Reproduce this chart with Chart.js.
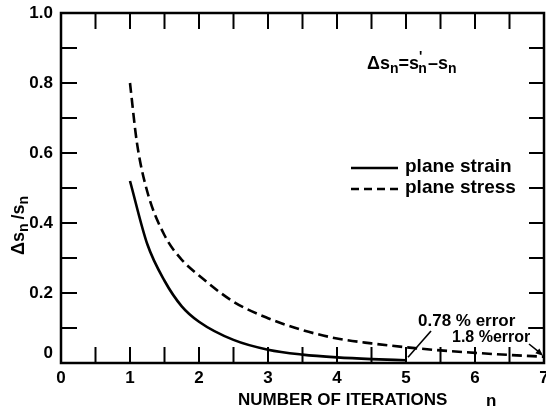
<!DOCTYPE html>
<html>
<head>
<meta charset="utf-8">
<script src="https://cdn.jsdelivr.net/npm/chart.js@4.4.1/dist/chart.umd.min.js"></script>
<style>
  html, body { margin: 0; padding: 0; background: #fff; }
  canvas { display: block; }
</style>
</head>
<body>
<canvas id="c" width="546" height="411"></canvas>
<script>
// Relative change of s_n against the number of iterations n
const strainN = [1, 1.25, 1.5, 1.75, 2, 2.5, 3, 3.5, 4, 4.5, 5];
const strainDelta = [0.52, 0.34, 0.235, 0.162, 0.118, 0.066, 0.038, 0.024, 0.016, 0.011, 0.0078];
const stressN = [1, 1.1, 1.25, 1.5, 1.75, 2, 2.5, 3, 3.5, 4, 4.5, 5, 5.5, 6, 6.5, 7];
const stressDelta = [0.80, 0.63, 0.49, 0.365, 0.295, 0.25, 0.175, 0.128, 0.094, 0.07, 0.056, 0.045, 0.036, 0.029, 0.023, 0.018];
const xTickLabels = ['0', '1', '2', '3', '4', '5', '6', '7'];
const yTickLabels = ['0', '0.2', '0.4', '0.6', '0.8', '1.0'];
const seriesNames = ['plane strain', 'plane stress'];
const errorNotes = ['0.78 % error', '1.8 %error'];
const xTitle = 'NUMBER OF ITERATIONS';
const xSymbol = 'n';

const FONT = "'Liberation Sans', Arial, sans-serif";
const toPoints = (xs, ys) => xs.map((v, i) => ({ x: v, y: ys[i] }));

// text made of runs, some of them set as subscripts or superscripts
function drawRuns(ctx, runs, x, y, size) {
  let cx = x;
  runs.forEach(r => {
    const s = r.sub || r.sup ? Math.round(size * 0.75) : size;
    ctx.font = `bold ${s}px ${FONT}`;
    const dy = r.sub ? size * 0.28 : (r.sup ? -size * 0.4 : 0);
    ctx.fillText(r.t, cx, y + dy);
    cx += ctx.measureText(r.t).width + (r.gap || 0);
  });
}

function arrowHead(ctx, x0, y0, x1, y1, len) {
  const a = Math.atan2(y1 - y0, x1 - x0);
  ctx.beginPath();
  ctx.moveTo(x1, y1);
  ctx.lineTo(x1 - len * Math.cos(a - 0.4), y1 - len * Math.sin(a - 0.4));
  ctx.lineTo(x1 - len * Math.cos(a + 0.4), y1 - len * Math.sin(a + 0.4));
  ctx.closePath();
  ctx.fill();
}

const decorations = {
  id: 'decorations',
  afterDatasetsDraw(chart) {
    const { ctx, chartArea: a, scales: { x, y } } = chart;
    ctx.save();
    ctx.strokeStyle = '#000';
    ctx.fillStyle = '#000';
    ctx.lineCap = 'butt';
    ctx.setLineDash([]);

    // inward tick marks on all four sides
    ctx.lineWidth = 2;
    const seg = (x0, y0, x1, y1) => { ctx.beginPath(); ctx.moveTo(x0, y0); ctx.lineTo(x1, y1); ctx.stroke(); };
    x.ticks.forEach(t => {
      const px = x.getPixelForValue(t.value);
      seg(px, a.bottom, px, a.bottom - 16);
      seg(px, a.top, px, a.top + 16);
    });
    y.ticks.forEach(t => {
      const py = y.getPixelForValue(t.value);
      seg(a.left, py, a.left + 16, py);
      seg(a.right, py, a.right - 15, py);
    });

    // frame
    ctx.lineWidth = 2.5;
    ctx.strokeRect(a.left, a.top, a.right - a.left, a.bottom - a.top);

    // y-axis "0" label sits a little above the axis line
    ctx.font = `bold 17px ${FONT}`;
    ctx.textAlign = 'right';
    ctx.textBaseline = 'middle';
    ctx.fillText(yTickLabels[0], a.left - 8, y.getPixelForValue(0) - 10);

    // axis titles
    ctx.textAlign = 'left';
    ctx.textBaseline = 'middle';
    ctx.font = `bold 17px ${FONT}`;
    ctx.fillText(xTitle, 238, 400);
    ctx.fillText(xSymbol, 486, 401);

    ctx.save();
    ctx.translate(19, 255);
    ctx.rotate(-Math.PI / 2);
    drawRuns(ctx, [{ t: 'Δs' }, { t: 'n', sub: true, gap: 4 }, { t: '/s' }, { t: 'n', sub: true }], 0, 0, 18);
    ctx.restore();

    // definition of the change
    drawRuns(ctx, [
      { t: 'Δs' }, { t: 'n', sub: true }, { t: '=s' },
      { t: '\'', sup: true, gap: -4 }, { t: 'n', sub: true, gap: 1 }, { t: '\u2013s' }, { t: 'n', sub: true }
    ], 367, 64, 18);

    // legend
    ctx.lineWidth = 2.5;
    seg(351, 168, 398, 168);
    ctx.setLineDash([8, 5]);
    seg(351, 189, 398, 189);
    ctx.setLineDash([]);
    ctx.font = `bold 19px ${FONT}`;
    ctx.fillText(seriesNames[0], 405, 167);
    ctx.fillText(seriesNames[1], 405, 188);

    // error notes with leaders to the curve ends
    const sEnd = { x: x.getPixelForValue(strainN[strainN.length - 1]), y: y.getPixelForValue(strainDelta[strainDelta.length - 1]) };
    const dEnd = { x: x.getPixelForValue(stressN[stressN.length - 1]), y: y.getPixelForValue(stressDelta[stressDelta.length - 1]) };
    ctx.font = `bold 17px ${FONT}`;
    ctx.fillText(errorNotes[0], 418, 321);
    ctx.font = `bold 16px ${FONT}`;
    ctx.fillText(errorNotes[1], 452, 338);
    ctx.lineWidth = 1.6;
    seg(431, 331, sEnd.x + 2, sEnd.y - 3);
    seg(528, 328, 538, 328);
    seg(529, 344, dEnd.x - 3, dEnd.y - 3);
    arrowHead(ctx, 529, 344, dEnd.x - 1, dEnd.y - 1, 8);
    ctx.restore();
  }
};

new Chart(document.getElementById('c'), {
  type: 'line',
  data: {
    datasets: [
      {
        label: seriesNames[0],
        data: toPoints(strainN, strainDelta),
        borderColor: '#000',
        borderWidth: 2.6,
        pointRadius: 0,
        cubicInterpolationMode: 'monotone',
        fill: false
      },
      {
        label: seriesNames[1],
        data: toPoints(stressN, stressDelta),
        borderColor: '#000',
        borderWidth: 2.6,
        borderDash: [10, 5],
        pointRadius: 0,
        cubicInterpolationMode: 'monotone',
        fill: false
      }
    ]
  },
  options: {
    responsive: false,
    devicePixelRatio: 1,
    animation: false,
    layout: { padding: { top: 13, right: 2, left: 0, bottom: 0 } },
    plugins: { legend: { display: false }, tooltip: { enabled: false } },
    scales: {
      x: {
        type: 'linear',
        min: 0,
        max: 7,
        border: { display: false },
        grid: { display: false, drawTicks: false },
        ticks: {
          stepSize: 0.5,
          autoSkip: false,
          maxRotation: 0,
          padding: 5,
          color: '#000',
          font: { family: FONT, size: 17, weight: 'bold' },
          callback: v => Number.isInteger(v) ? xTickLabels[v] : ''
        },
        afterFit: s => { s.height = 48; s.paddingLeft = 0; s.paddingRight = 0; }
      },
      y: {
        type: 'linear',
        min: 0,
        max: 1,
        border: { display: false },
        grid: { display: false, drawTicks: false },
        ticks: {
          stepSize: 0.1,
          autoSkip: false,
          padding: 8,
          color: '#000',
          font: { family: FONT, size: 17, weight: 'bold' },
          callback: v => {
            const k = Math.round(v * 10);
            return (k > 0 && k % 2 === 0) ? yTickLabels[k / 2] : '';
          }
        },
        afterFit: s => { s.width = 61; s.paddingTop = 0; s.paddingBottom = 0; }
      }
    }
  },
  plugins: [decorations]
});
</script>
</body>
</html>
